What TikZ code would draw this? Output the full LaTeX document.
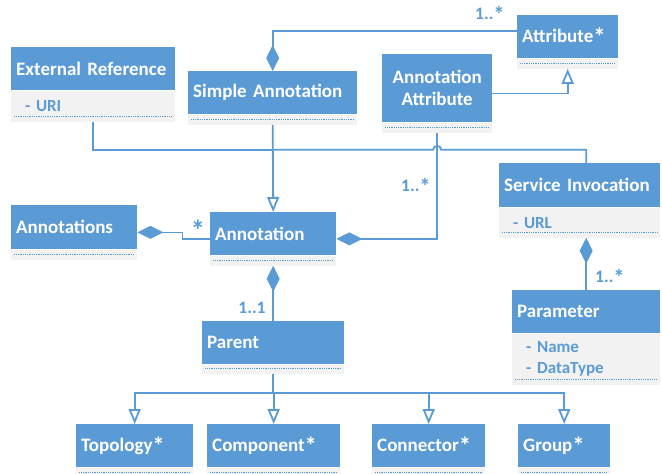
\documentclass[tikz,border=0pt]{standalone}
\usepackage{fontspec}
\usepackage{graphicx}
\setmainfont{Carlito}[WordSpace=0.8]
\usetikzlibrary{arrows.meta, calc}

\definecolor{umlblue}{HTML}{5B9BD5}
\definecolor{umlgray}{HTML}{F2F2F2}

\newcommand{\umlstar}{\raisebox{-3pt}{\scalebox{1.3}{*}}}

\tikzset{
    hdr/.style={fill=umlblue, text=white, anchor=north west, inner xsep=5pt, inner ysep=0pt,
        text width=#1, align=left, font=\fontsize{19}{22}\selectfont\bfseries},
    cmp/.style={fill=umlgray, anchor=north west, inner xsep=14pt, inner ysep=0pt,
        text width=#1, align=left, text=umlblue, font=\fontsize{17}{21}\selectfont\bfseries,
        path picture={\draw[umlblue, densely dotted, line width=0.8pt]
            ([xshift=3pt, yshift=5pt]path picture bounding box.south west) --
            ([xshift=-3pt, yshift=5pt]path picture bounding box.south east);}},
    link/.style={draw=umlblue, line width=1.8pt},
    gen/.style={link, -{Triangle[width=12pt, length=15pt, fill=white]}},
    comp/.style={link, {Diamond[width=13pt, length=26pt]}-},
    mult/.style={text=umlblue, inner sep=0pt, font=\fontsize{17.5}{20}\selectfont\bfseries}
}

\begin{document}
\begin{tikzpicture}[x=1pt, y=-1pt]
        \useasboundingbox (0,0) rectangle (662,474);

        \node[hdr=154, minimum height=43pt] (ext) at (11,47) {External Reference};
        \node[cmp=136, minimum height=31pt] (ext-a) at (ext.south west) {- URI};

        \node[hdr=159, minimum height=43pt] (sa) at (188,71) {Simple Annotation};
        \node[cmp=141, minimum height=10pt] (sa-a) at (sa.south west) {};

        \node[hdr=100, minimum height=68pt, align=center] (aa) at (382,54) {Annotation\\Attribute};
        \node[cmp=82, minimum height=10pt] (aa-a) at (aa.south west) {};

        \node[hdr=91, minimum height=43pt] (attr) at (517,15) {Attribute\umlstar};
        \node[cmp=73, minimum height=10pt] (attr-a) at (attr.south west) {};

        \node[hdr=151, minimum height=44pt] (si) at (499,163) {Service Invocation};
        \node[cmp=133, minimum height=30pt] (si-a) at (si.south west) {- URL};

        \node[hdr=116, minimum height=44pt] (anns) at (11,205) {Annotations};
        \node[cmp=98, minimum height=10pt] (anns-a) at (anns.south west) {};

        \node[hdr=116, minimum height=43pt] (ann) at (210,212) {Annotation};
        \node[cmp=98, minimum height=10pt] (ann-a) at (ann.south west) {};

        \node[hdr=132, minimum height=43pt] (prt) at (202,321) {Parent};
        \node[cmp=114, minimum height=9pt] (prt-a) at (prt.south west) {};

        \node[hdr=138, minimum height=43pt] (par) at (512,290) {Parameter};
        \node[cmp=120, minimum height=51pt] (par-a) at (par.south west) {- Name\\- DataType};

        \node[hdr=107, minimum height=43pt] (topo) at (76,424) {Topology\umlstar};
        \node[cmp=89, minimum height=10pt] (topo-a) at (topo.south west) {};
        \node[hdr=123, minimum height=43pt] (comp) at (207,424) {Component\umlstar};
        \node[cmp=105, minimum height=10pt] (comp-a) at (comp.south west) {};
        \node[hdr=103, minimum height=43pt] (conn) at (372,424) {Connector\umlstar};
        \node[cmp=85, minimum height=10pt] (conn-a) at (conn.south west) {};
        \node[hdr=82, minimum height=43pt] (grp) at (518,424) {Group\umlstar};
        \node[cmp=64, minimum height=10pt] (grp-a) at (grp.south west) {};

        \coordinate (ann-l) at ($(ann.north west)!0.5!(ann-a.south west)$);
        \coordinate (ann-r) at ($(ann.north east)!0.5!(ann-a.south east)$);
        \coordinate (anns-r) at ($(anns.north east)!0.5!(anns-a.south east)$);
        \coordinate (aa-r) at ($(aa.north east)!0.5!(aa-a.south east)$);
        \coordinate (bus) at ($(sa-a.south)+(0,25)$);
        \coordinate (hop) at (aa-a.south |- bus);
        \coordinate (fork) at ($(prt-a.south)+(0,19)$);

        \draw[link] (ext-a.south) |- (bus);
        \draw[link] (si.north -| par.north) |- ($(hop)+(4,0)$)
            arc[start angle=0, end angle=-180, radius=4] -- (bus);
        \draw[gen] (sa-a.south) -- (ann.north);

        \draw[comp] (sa.north) |- ([yshift=5.5pt]attr.west);
        \draw[gen] (aa-r) -| (attr-a.south);
        \draw[comp] (ann-r) -| (aa-a.south);
        \draw[comp] (anns-r) -- ++(45,0) |- (ann-l);
        \draw[comp] (ann-a.south) -- (prt.north);
        \draw[comp] (si-a.south -| par.north) -- (par.north);

        \draw[link] (prt-a.south) -- (fork);
        \foreach \n in {topo, comp, conn, grp}
            \draw[gen] (fork) -| (\n.north);

        \node[mult] (m-attr) at (490,14) {1..\umlstar};
        \node[mult] (m-aa) at (416,186) {1..\umlstar};
        \node[mult, font=\fontsize{22}{22}\selectfont\bfseries] (m-anns) at (198,230) {\umlstar};
        \node[mult] (m-prt) at (252,308) {1..1};
        \node[mult] (m-par) at (610,277) {1..\umlstar};
\end{tikzpicture}
\end{document}
